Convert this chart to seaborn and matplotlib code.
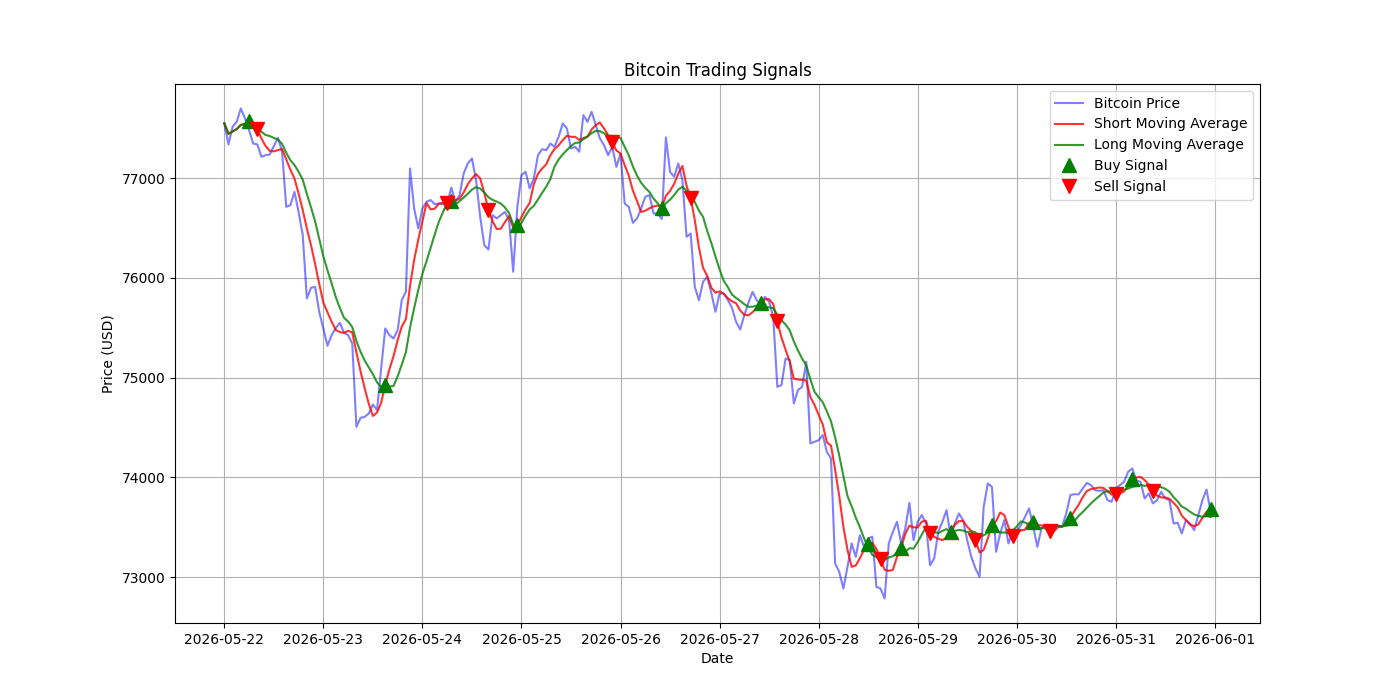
import pandas as pd
import numpy as np
import seaborn as sns
import matplotlib
matplotlib.use('Agg')
import matplotlib.pyplot as plt

# hourly price readings, 2026-05-22 00:00 onwards
price = [
    77550, 77338, 77514, 77565, 77698, 77600, 77480, 77347, 77338, 77214,
    77230, 77237, 77320, 77404, 77264, 76712, 76729, 76863, 76660, 76430,
    75794, 75900, 75910, 75660, 75490, 75320, 75426, 75496, 75550, 75450,
    75426, 75343, 74507, 74597, 74607, 74640, 74731, 74674, 75092, 75493,
    75426, 75393, 75476, 75777, 75860, 77097, 76696, 76496, 76696, 76763,
    76780, 76739, 76746, 76736, 76739, 76906, 76763, 76830, 77047, 77147,
    77197, 76980, 76612, 76328, 76285, 76629, 76596, 76629, 76662, 76579,
    76061, 76712, 77030, 77063, 76897, 76997, 77230, 77290, 77280, 77347,
    77314, 77414, 77548, 77498, 77297, 77314, 77264, 77632, 77564, 77665,
    77531, 77398, 77331, 77230, 77314, 77113, 77247, 76746, 76712, 76552,
    76596, 76696, 76813, 76830, 76646, 76646, 76590, 77408, 77063, 77013,
    77147, 76980, 76412, 76445, 75910, 75777, 75961, 76011, 75850, 75660,
    75844, 75844, 75780, 75700, 75560, 75483, 75627, 75750, 75860, 75777,
    75727, 75810, 75760, 75610, 74908, 74925, 75192, 75176, 74741, 74875,
    74908, 75158, 74340, 74357, 74373, 74424, 74256, 74190, 73137, 73053,
    72886, 73103, 73338, 73204, 73421, 73304, 73388, 73405, 72903, 72886,
    72786, 73338, 73455, 73555, 73338, 73488, 73745, 73371, 73555, 73622,
    73538, 73120, 73187, 73455, 73555, 73672, 73405, 73538, 73638, 73571,
    73371, 73204, 73087, 73003, 73705, 73939, 73905, 73254, 73438, 73571,
    73338, 73455, 73455, 73521, 73605, 73689, 73505, 73304, 73488, 73521,
    73488, 73488, 73521, 73505, 73638, 73822, 73832, 73829, 73889, 73945,
    73922, 73872, 73865, 73872, 73772, 73755, 73889, 73922, 73955, 74056,
    74090, 73972, 73955, 73789, 73839, 73739, 73772, 73855, 73789, 73772,
    73538, 73545, 73438, 73571, 73538, 73471, 73622, 73772, 73878, 73650,
]

short_window = 5
long_window = 10

# hours (from start) where signals were drawn
buy_hours = [6, 39, 55, 71, 106, 130, 156, 164, 176, 186, 196, 205, 220, 239]
sell_hours = [8, 54, 64, 94, 113, 134, 159, 171, 182, 191, 200, 216, 225]

df = pd.DataFrame({'Price': price},
                  index=pd.date_range('2026-05-22', periods=len(price), freq='h'))
df['Short_MA'] = df['Price'].rolling(short_window, min_periods=1).mean()
df['Long_MA'] = df['Price'].rolling(long_window, min_periods=1).mean()

buys = df.iloc[buy_hours]
sells = df.iloc[sell_hours]

fig, ax = plt.subplots(figsize=(14, 7), dpi=100)

sns.lineplot(x=df.index, y=df['Price'], ax=ax, color='blue', alpha=0.5, label='Bitcoin Price')
sns.lineplot(x=df.index, y=df['Short_MA'], ax=ax, color='red', alpha=0.8, label='Short Moving Average')
sns.lineplot(x=df.index, y=df['Long_MA'], ax=ax, color='green', alpha=0.8, label='Long Moving Average')

ax.plot(buys.index, buys['Short_MA'], '^', markersize=10, color='g', label='Buy Signal', linestyle='none')
ax.plot(sells.index, sells['Short_MA'], 'v', markersize=10, color='r', label='Sell Signal', linestyle='none')

ax.set_title('Bitcoin Trading Signals')
ax.set_xlabel('Date')
ax.set_ylabel('Price (USD)')
ax.legend(loc='upper right')
ax.grid(True)

plt.savefig('out.png', dpi=100)
plt.close()
